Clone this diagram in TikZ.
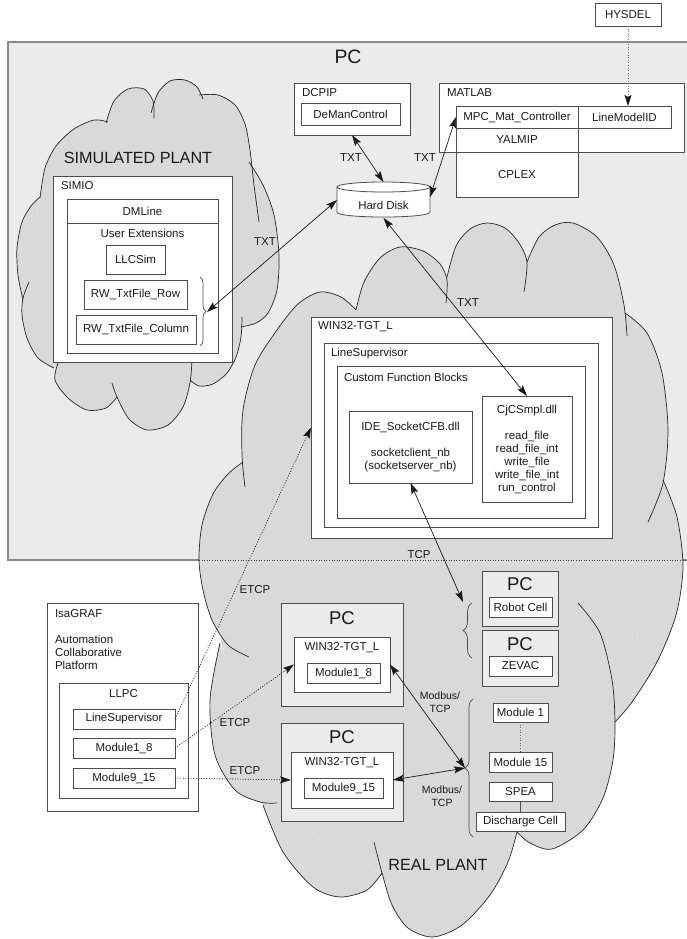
\documentclass[tikz,border=0pt]{standalone}
\usepackage{fontspec}
\setmainfont{Liberation Sans}
\usetikzlibrary{arrows.meta,decorations.pathreplacing,calc}
\definecolor{pcgray}{HTML}{EBEBEB}
\definecolor{cloudgray}{HTML}{D9D9D9}
\definecolor{edge}{HTML}{4D4D4D}
\definecolor{ink}{HTML}{1A1A1A}
\definecolor{frame}{HTML}{8A8A8A}

\tikzset{
  rbx/.style={draw=edge, fill=white, line width=0.8pt, inner sep=0pt, outer sep=0pt, text=ink},
  pcbx/.style={rbx, fill=pcgray},
  lbl/.style={inner sep=0pt, outer sep=0pt, text=ink},
  big/.style={lbl, font=\fontsize{18.5}{20}\selectfont},
  title/.style={lbl, font=\fontsize{16.2}{18}\selectfont},
  small/.style={lbl, align=center, font=\fontsize{10.5}{12.5}\selectfont},
  arr/.style={line width=0.7pt, draw=ink,
    {Stealth[length=11pt,width=7pt,inset=2pt]}-{Stealth[length=11pt,width=7pt,inset=2pt]}},
  darr/.style={line width=0.7pt, draw=ink, dash pattern=on 1pt off 1.6pt,
    -{Stealth[length=11pt,width=7pt,inset=2pt,color=ink]}},
  cloudline/.style={draw=black!85, line width=0.7pt},
  brc/.style={decorate, decoration={brace, amplitude=#1}, draw=edge, line width=0.7pt},
}

% box from screen corner (x1,y1) to (x2,y2)
\newcommand\boxnode[7][]{\node[rbx,#1,anchor=north west,
  minimum width={(#5)-(#3)},minimum height={(#6)-(#4)}] (#2) at (#3,#4) {#7};}
% one lobe of a cloud: filled region and outline
\newcommand\lobefill[1]{\edef\tmplobe{\noexpand\fill[cloudgray] plot[smooth] coordinates {#1} -- cycle;}\tmplobe}
\newcommand\lobedraw[1]{\edef\tmplobe{\noexpand\draw[cloudline] plot[smooth] coordinates {#1};}\tmplobe}

% simulated plant cloud lobes
\def\spA{(40,198) (45,168) (56,146) (74,129) (94,120) (108,122)}
\def\spB{(106,123) (114,101) (128,89) (144,89) (153,101) (154,118)}
\def\spC{(151,113) (158,93) (170,81) (185,80) (197,87) (203,99)}
\def\spD{(199,95) (218,95) (235,105) (245,124) (250,150) (254,185) (259,222)}
\def\spE{(249,162) (263,185) (274,215) (279,255) (277,290) (268,313) (256,323) (241,327)}
\def\spF{(242,317) (241,337) (236,357) (227,373) (213,384) (199,386) (190,380)}
\def\spG{(192,360) (190,383) (183,407) (168,425) (147,430) (129,419) (117,397) (112,383)}
\def\spH{(117,397) (106,408) (87,410) (68,398) (55,380) (58,363)}
\def\spI{(54,368) (38,358) (27,338) (22,315) (23,298) (29,282)}
\def\spJ{(23,300) (18,275) (17,248) (22,222) (31,206) (40,197)}

% real plant cloud lobes
\def\rpA{(245,487) (242,455) (243,410) (255,365) (277,330) (298,304) (320,292) (341,297) (356,310)}
\def\rpB{(356,310) (364,282) (380,258) (400,247) (423,251) (440,264) (447,280) (446,303)}
\def\rpC{(447,277) (456,246) (470,229) (487,223) (505,228) (519,243) (527,262) (524,292)}
\def\rpD{(527,262) (539,237) (555,225) (573,223) (597,237) (614,265) (624,305) (627,336)}
\def\rpE{(625,313) (647,333) (662,373) (668,430) (663,483) (648,522)}
\def\rpF{(663,480) (677,517) (683,567) (676,615) (657,662) (632,702) (615,722)}
\def\rpG{(578,603) (600,633) (612,680) (615,722) (613,760) (603,798) (583,830) (552,849) (530,843) (517,832)}
\def\rpH{(517,832) (508,862) (490,895) (462,925) (433,937) (408,928) (392,905) (382,873) (374,842)}
\def\rpI{(382,873) (367,890) (340,897) (313,887) (283,852) (263,805)}
\def\rpJ{(277,803) (260,802) (235,790) (215,755) (210,700) (220,643)}
\def\rpK{(249,657) (228,645) (212,620) (203,590) (199,560) (202,525) (213,494) (228,474) (243,462)}

\begin{document}
\begin{tikzpicture}[x=1pt,y=-1pt,font=\fontsize{11.5}{13}\selectfont]
\fill[white] (0,0) rectangle (686,939);
\useasboundingbox (0,0) rectangle (686,939);

% PC area
\path[fill=pcgray, draw=frame, line width=1.6pt] (8,42) rectangle (700,560);

% simulated plant cloud
\fill[cloudgray] (40,198) -- (106,122) -- (152,113) -- (200,95) -- (250,162) -- (243,326)
  -- (190,380) -- (117,397) -- (55,367) -- (23,300) -- cycle;
\lobefill{\spA}\lobefill{\spB}\lobefill{\spC}\lobefill{\spD}\lobefill{\spE}
\lobefill{\spF}\lobefill{\spG}\lobefill{\spH}\lobefill{\spI}\lobefill{\spJ}
\lobedraw{\spA}\lobedraw{\spB}\lobedraw{\spC}\lobedraw{\spD}\lobedraw{\spE}
\lobedraw{\spF}\lobedraw{\spG}\lobedraw{\spH}\lobedraw{\spI}\lobedraw{\spJ}

% real plant cloud
\fill[cloudgray] (243,462) -- (356,310) -- (447,277) -- (527,262) -- (625,313) -- (663,480)
  -- (615,722) -- (517,832) -- (382,873) -- (263,805) -- (221,642) -- cycle;
\lobefill{\rpA}\lobefill{\rpB}\lobefill{\rpC}\lobefill{\rpD}\lobefill{\rpE}\lobefill{\rpF}
\lobefill{\rpG}\lobefill{\rpH}\lobefill{\rpI}\lobefill{\rpJ}\lobefill{\rpK}
\lobedraw{\rpA}\lobedraw{\rpB}\lobedraw{\rpC}\lobedraw{\rpD}\lobedraw{\rpE}\lobedraw{\rpF}
\lobedraw{\rpG}\lobedraw{\rpH}\lobedraw{\rpI}\lobedraw{\rpJ}\lobedraw{\rpK}

% PC boundary across the real plant
\draw[black!75, line width=0.7pt, dash pattern=on 1pt off 1.6pt] (199,560) -- (686,560);

% ---------- top ----------
\node[big, font=\fontsize{19.4}{21}\selectfont] (pcT) at (348,57) {PC};
\boxnode{hys}{595}{3}{661}{26}{HYSDEL}

\boxnode{dcpip}{294}{83}{410}{135}{}
\node[lbl, anchor=west] (dcpipL) at (302,93) {DCPIP};
\boxnode{deman}{301}{103}{400}{125}{DeManControl}

\boxnode{matlab}{439}{83}{684}{152}{}
\node[lbl, anchor=west] (matlabL) at (447,93) {MATLAB};
\boxnode{cplex}{456}{152}{578}{197}{CPLEX}
\boxnode{yalmip}{456}{128}{578}{152}{YALMIP}
\boxnode{mpc}{456}{106}{578}{128}{MPC\_Mat\_Controller}
\boxnode{lmid}{578}{106}{671}{128}{LineModelID}

% hard disk cylinder
\path[fill=white, draw=edge, line width=0.8pt] (337,187) -- (337,212)
  .. controls (337,218.7) and (430,218.7) .. (430,212) -- (430,187);
\draw[fill=white, draw=edge, line width=0.8pt] (383.5,187) ellipse [x radius=46.5, y radius=5];
\node[draw=none, inner sep=0pt, outer sep=0pt, minimum width=93, minimum height=36] (disk) at (383.5,200) {};
\node[lbl] (diskL) at (383.5,205) {Hard Disk};

\node[lbl] (txtA) at (351,158) {TXT};
\node[lbl] (txtB) at (425,158) {TXT};

% ---------- simulated plant ----------
\node[title] (simT) at (138,158) {SIMULATED PLANT};
\boxnode{simio}{53}{176}{232}{362}{}
\node[lbl, anchor=west] (simioL) at (61,186) {SIMIO};
\boxnode{dmhead}{67}{199}{218}{223}{DMLine}
\boxnode{dmbody}{67}{223}{218}{353}{}
\node[lbl] (uext) at (142.5,233) {User Extensions};
\boxnode{llc}{106}{245}{165}{274}{LLCSim}
\boxnode{rwrow}{84}{280}{187}{309}{RW\_TxtFile\_Row}
\boxnode{rwcol}{76}{315}{196}{344}{RW\_TxtFile\_Column}
\draw[brc=6pt] (200,277) -- (200,346);
\coordinate (b1tip) at (207,312);
\node[lbl] (txtC) at (265,242) {TXT};

% ---------- controller target ----------
\boxnode{win}{311}{317}{612}{538}{}
\node[lbl, anchor=west] (winL) at (318,327) {WIN32-TGT\_L};
\boxnode{lsup}{324}{343}{598}{527}{}
\node[lbl, anchor=west] (lsupL) at (331,354) {LineSupervisor};
\boxnode{cfb}{337}{366}{585}{518}{}
\node[lbl, anchor=west] (cfbL) at (344,377) {Custom Function Blocks};
\boxnode[align=center]{ide}{349}{411}{472}{483}{IDE\_SocketCFB.dll\\[13pt]socketclient\_nb\\(socketserver\_nb)}
\boxnode[align=center]{cjc}{482}{396}{572}{502}{CjCSmpl.dll\\[13pt]read\_file\\read\_file\_int\\write\_file\\write\_file\_int\\run\_control}
\node[lbl] (txtD) at (468,303) {TXT};
\node[lbl] (tcpL) at (419,555) {TCP};

% ---------- real plant ----------
\boxnode[pcbx]{pcr}{482}{571}{558}{626}{}
\node[big] (pcrL) at (520,584) {PC};
\boxnode{robot}{489}{597}{552}{617}{Robot Cell}
\boxnode[pcbx]{pcz}{482}{630}{558}{686}{}
\node[big] (pczL) at (520,644) {PC};
\boxnode{zevac}{489}{656}{552}{676}{ZEVAC}
\draw[brc=9pt] (472,658) -- (472,603);
\coordinate (b2end) at (463,602);

\boxnode[pcbx]{pca}{281}{603}{403}{706}{}
\node[big] (pcaL) at (342,618) {PC};
\boxnode{wina}{294}{637}{390}{692}{}
\node[lbl] (winaL) at (342,648) {WIN32-TGT\_L};
\boxnode{m18}{307}{663}{380}{683}{Module1\_8}
\boxnode[pcbx]{pcb}{281}{723}{403}{821}{}
\node[big] (pcbL) at (342,737) {PC};
\boxnode{winb}{291}{752}{393}{808}{}
\node[lbl] (winbL) at (342,763) {WIN32-TGT\_L};
\boxnode{m915}{304}{778}{383}{798}{Module9\_15}

\boxnode{mod1}{493}{703}{548}{722}{Module 1}
\boxnode{mod15}{489}{752}{552}{772}{Module 15}
\boxnode{spea}{489}{782}{552}{801}{SPEA}
\boxnode{dis}{476}{812}{565}{831}{Discharge Cell}
\draw[black!60, line width=0.7pt, dash pattern=on 1pt off 1.6pt] (mod1.south) -- (mod15.north);
\draw[edge, line width=0.8pt] (spea.south) -- (dis.north);
\draw[brc=8pt] (473,837) -- (473,699);
\coordinate (b3tip) at (465,768);
\node[small] (mbA) at (440,702) {Modbus/\\TCP};
\node[small] (mbB) at (442,796) {Modbus/\\TCP};
\node[title] (realT) at (438,865) {REAL PLANT};

% ---------- IsaGRAF ----------
\boxnode{isa}{47}{603}{198}{811}{}
\node[lbl, anchor=west] (isaL) at (55,614) {IsaGRAF};
\node[lbl, anchor=north west, align=left] (acp) at (55,635) {Automation\\Collaborative\\Platform};
\boxnode{llpc}{59}{683}{188}{798}{}
\node[lbl] (llpcL) at (123.5,694) {LLPC};
\boxnode{ils}{73}{709}{175}{729}{LineSupervisor}
\boxnode{im18}{73}{738}{175}{758}{Module1\_8}
\boxnode{im915}{73}{768}{175}{788}{Module9\_15}
\node[lbl] (etA) at (255,590) {ETCP};
\node[lbl] (etB) at (235,723) {ETCP};
\node[lbl] (etC) at (245,771) {ETCP};

% ---------- connectors ----------
\draw[arr] (dcpip.south) -- (disk.north);
\draw[arr] (mpc.west) -- ($(disk.east)+(0,-3)$);
\draw[arr] (disk.west) -- (b1tip);
\draw[arr] (disk.south) -- (cjc.north);
\draw[arr] (ide.south) -- (b2end);
\draw[arr] (wina.east) -- (b3tip);
\draw[arr] (winb.east) -- (b3tip);
\draw[darr] (ils.east) -- (win.west);
\draw[darr] (im18.east) -- (wina.west);
\draw[darr] (im915.east) -- (winb.west);
\draw[darr, draw=black!55] (hys.south) -- (hys.south |- lmid.north);
\end{tikzpicture}
\end{document}
